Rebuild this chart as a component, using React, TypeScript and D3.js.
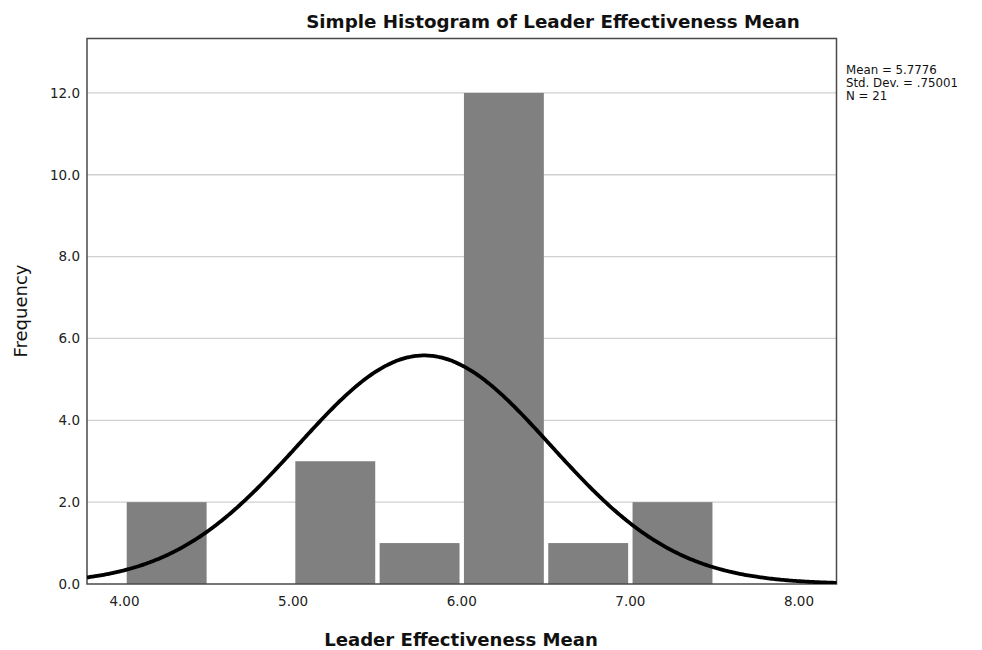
import React from "react";
import * as d3 from "d3";

const binStarts = [4.0, 4.5, 5.0, 5.5, 6.0, 6.5, 7.0];
const binWidth = 0.5;
const frequencies = [2, 0, 3, 1, 12, 1, 2];
const yTicks = [0, 2, 4, 6, 8, 10, 12];
const xTicks = [4, 5, 6, 7, 8];
const statMean = 5.7776;
const statSd = 0.75001;
const statN = 21;
const legendLines = ["Mean = 5.7776", "Std. Dev. = .75001", "N = 21"];

const W = 982;
const H = 650;
const left = 87;
const right = 836.5;
const top = 38.5;
const bottom = 584;
const font = "'DejaVu Sans', Verdana, sans-serif";

export default function App() {
  const x = d3.scaleLinear().domain([3.7776, 8.2226]).range([left, right]);
  const y = d3.scaleLinear().domain([0, 13.33]).range([bottom, top]);

  const [x0, x1] = x.domain();
  const curveXs = d3.range(x0, x1 + 0.005, 0.01);
  const normal = (v: number) =>
    (statN * binWidth * Math.exp(-0.5 * ((v - statMean) / statSd) ** 2)) /
    (statSd * Math.sqrt(2 * Math.PI));
  const line = d3
    .line<number>()
    .x((d) => x(d))
    .y((d) => y(normal(d)))
    .curve(d3.curveBasis);

  const gap = 2.2;

  return (
    <svg width={W} height={H} style={{ position: "absolute", left: 0, top: 0 }}>
      <rect x={0} y={0} width={W} height={H} fill="#fff" />
      <defs>
        <clipPath id="plot">
          <rect x={left} y={top} width={right - left} height={bottom - top} />
        </clipPath>
      </defs>
      {yTicks.slice(1).map((t) => (
        <line key={t} x1={left} x2={right} y1={y(t)} y2={y(t)} stroke="#d0d0d0" strokeWidth={1.3} />
      ))}
      {binStarts.map((b, i) =>
        frequencies[i] > 0 ? (
          <rect
            key={b}
            x={x(b) + gap}
            y={y(frequencies[i])}
            width={x(b + binWidth) - x(b) - 2 * gap}
            height={y(0) - y(frequencies[i])}
            fill="#808080"
          />
        ) : null
      )}
      <rect x={left} y={top} width={right - left} height={bottom - top} fill="none" stroke="#4a4a4a" strokeWidth={1.5} />
      <path d={line(curveXs) || ""} fill="none" stroke="#000" strokeWidth={3.8} clipPath="url(#plot)" />
      {yTicks.map((t) => (
        <text key={t} x={left - 7} y={y(t)} dy="0.36em" textAnchor="end" fontSize={13.5} fill="#222" fontFamily={font}>
          {t.toFixed(1)}
        </text>
      ))}
      {xTicks.map((t) => (
        <text key={t} x={x(t)} y={bottom + 22} textAnchor="middle" fontSize={13.5} fill="#222" fontFamily={font}>
          {t.toFixed(2)}
        </text>
      ))}
      <text x={553} y={28} textAnchor="middle" fontSize={18.3} fontWeight="bold" fill="#111" fontFamily={font}>
        Simple Histogram of Leader Effectiveness Mean
      </text>
      <text x={461} y={646} textAnchor="middle" fontSize={18.1} fontWeight="bold" fill="#111" fontFamily={font}>
        Leader Effectiveness Mean
      </text>
      <text
        transform={`translate(27, 311) rotate(-90)`}
        textAnchor="middle"
        fontSize={18}
        fill="#111"
        fontFamily={font}
      >
        Frequency
      </text>
      {legendLines.map((s, i) => (
        <text key={s} x={846} y={74 + i * 13} fontSize={11.8} fill="#111" fontFamily={font}>
          {s}
        </text>
      ))}
    </svg>
  );
}
